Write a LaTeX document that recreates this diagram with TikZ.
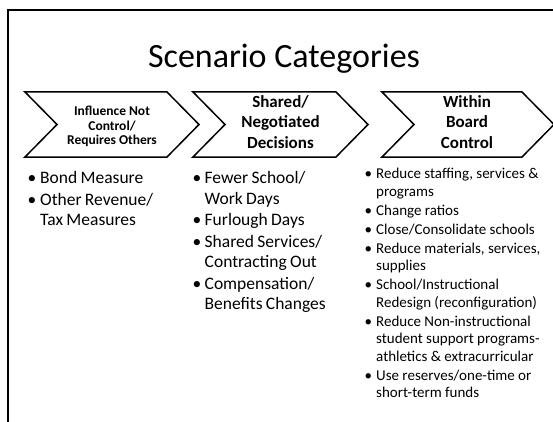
\documentclass[tikz,border=0pt]{standalone}
\usepackage{fontspec}
\setmainfont{Carlito}

\newlength{\bulind}
\newcommand{\bitem}[1]{\par\hangindent=\bulind\hangafter=1\noindent\hbox to \bulind{\textbullet\hfil}#1}

\tikzset{
  chev/.style={line width=1.5pt, line join=miter},
  cattext/.style={font=\bfseries\fontsize{17}{20.5}\selectfont, align=center},
  smallcat/.style={font=\bfseries\fontsize{13.5}{14.5}\selectfont, align=center},
  blist/.style={anchor=north west, inner sep=0pt, text width=#1, align=left},
}

\begin{document}
\begin{tikzpicture}[x=1pt,y=-1pt]
\useasboundingbox (0,0) rectangle (553,422);
% slide frame
\draw[line width=2pt] (553,10) -- (8,10) -- (8,422);
\node[anchor=base] (title) at (284,68) {\fontsize{34}{40}\selectfont Scenario Categories};

% the three chevrons
\draw[chev] (25,92) -- (167,92) -- (199,124.5) -- (167,157) -- (25,157) -- (57,124.5) -- cycle;
\draw[chev] (193,92) -- (336,92) -- (368,124.5) -- (336,157) -- (193,157) -- (225,124.5) -- cycle;
\draw[chev] (382,92) -- (522,92) -- (554,124.5) -- (522,157) -- (382,157) -- (414,124.5) -- cycle;
\node[smallcat] (influence) at (112,126.5) {Influence Not\\Control/\\Requires Others};
\node[cattext] (shared) at (280.5,122) {Shared/\\Negotiated\\Decisions};
\node[cattext] (board) at (467,122) {Within\\Board\\Control};

% lists under each chevron
\node[blist=160pt] (revlist) at (27.5,162) {\setlength{\bulind}{12.5pt}\setlength{\parskip}{1pt}\fontsize{17.5}{20.5}\selectfont
  \bitem{Bond Measure}
  \bitem{Other Revenue/\newline Tax Measures}\par};
\node[blist=165pt] (negolist) at (192.5,162) {\setlength{\bulind}{12pt}\setlength{\parskip}{1pt}\fontsize{17.5}{20.5}\selectfont
  \bitem{Fewer School/\newline Work Days}
  \bitem{Furlough Days}
  \bitem{Shared Services/\newline Contracting Out}
  \bitem{Compensation/\newline Benefits Changes}\par};
\node[blist=185pt] (boardlist) at (364.5,159.5) {\setlength{\bulind}{11.5pt}\setlength{\parskip}{1.5pt}\fontsize{15}{17.5}\selectfont
  \bitem{Reduce staffing, services \&\newline programs}
  \bitem{Change ratios}
  \bitem{Close/Consolidate schools}
  \bitem{Reduce materials, services,\newline supplies}
  \bitem{School/Instructional\newline Redesign (reconfiguration)}
  \bitem{Reduce Non-instructional\newline student support programs-\newline athletics \& extracurricular}
  \bitem{Use reserves/one-time or\newline short-term funds}\par};
\end{tikzpicture}
\end{document}
